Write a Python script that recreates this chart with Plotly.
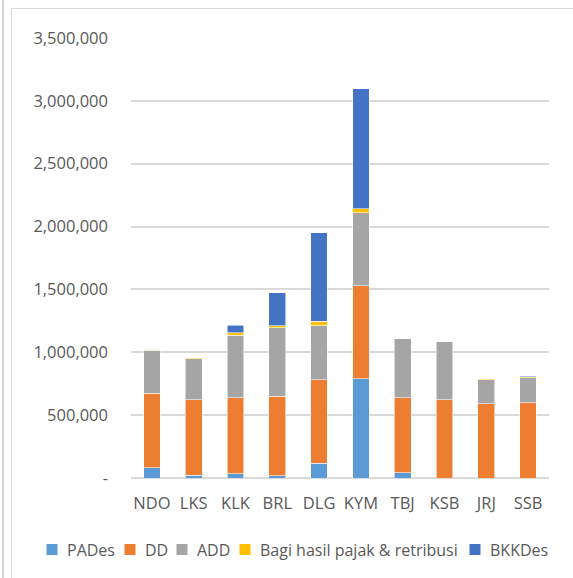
import plotly.graph_objects as go

# Village codes and revenue components (Rupiah)
villages = ["NDO", "LKS", "KLK", "BRL", "DLG", "KYM", "TBJ", "KSB", "JRJ", "SSB"]
pades = [80000, 21000, 34000, 19000, 119000, 790000, 40000, 0, 0, 0]
dd = [596000, 600000, 603000, 633000, 661000, 738000, 597000, 623000, 589000, 597000]
add = [340000, 326000, 498000, 542000, 430000, 581000, 472000, 459000, 191000, 199000]
bagi_hasil = [8000, 8000, 19000, 18000, 37000, 32000, 0, 0, 10000, 10000]
bkkdes = [0, 0, 61000, 260000, 703000, 957000, 0, 0, 0, 6000]

tick_vals = [0, 500000, 1000000, 1500000, 2000000, 2500000, 3000000, 3500000]
tick_text = ["-", "500,000", "1,000,000", "1,500,000", "2,000,000",
             "2,500,000", "3,000,000", "3,500,000"]

series = [
    ("PADes", pades, "#5B9BD5"),
    ("DD", dd, "#ED7D31"),
    ("ADD", add, "#A5A5A5"),
    ("Bagi hasil pajak & retribusi", bagi_hasil, "#FFC000"),
    ("BKKDes", bkkdes, "#4472C4"),
]

FONT = "Open Sans"
TEXT = "#595959"
FS = 16.5

# plot area geometry in pixels
W, H = 573, 578
L, R, T, B = 131, 24, 38, 100
pw, ph = W - L - R, H - T - B


def px_x(p):
    return (p - L) / pw


def px_y(p):
    return 1 - (p - T) / ph


fig = go.Figure()
for name, vals, color in series:
    fig.add_trace(go.Bar(
        x=villages, y=vals, name=name,
        marker=dict(color=color, line=dict(color="rgba(255,255,255,0.7)", width=0.8)),
    ))

frame = "#D9D9D9"
shapes = [
    dict(type="line", xref="paper", yref="paper",
         x0=px_x(3), x1=px_x(3), y0=px_y(0), y1=px_y(H),
         line=dict(color="#D4D4D4", width=2)),
    dict(type="line", xref="paper", yref="paper",
         x0=px_x(11.5), x1=px_x(11.5), y0=px_y(8.5), y1=px_y(H),
         line=dict(color=frame, width=1)),
    dict(type="line", xref="paper", yref="paper",
         x0=px_x(11.5), x1=px_x(W), y0=px_y(8.5), y1=px_y(8.5),
         line=dict(color=frame, width=1)),
]

# single-row key under the category axis: swatch left edges (px) per series
key_swatch_left = [46.5, 124.5, 176.5, 239.5, 469.5]
key_row_y = 549.5
swatch = 11
text_gap = 8
annotations = []
for (name, _, color), sx in zip(series, key_swatch_left):
    shapes.append(dict(
        type="rect", xref="paper", yref="paper",
        x0=px_x(sx), x1=px_x(sx + swatch),
        y0=px_y(key_row_y - swatch / 2), y1=px_y(key_row_y + swatch / 2),
        fillcolor=color, line=dict(width=0),
    ))
    annotations.append(dict(
        text=name, xref="paper", yref="paper",
        x=px_x(sx + swatch + text_gap), xanchor="left",
        y=px_y(key_row_y), yanchor="middle",
        showarrow=False, borderpad=0,
        font=dict(family=FONT, size=16, color=TEXT),
    ))

fig.update_layout(
    width=W, height=H,
    margin=dict(l=L, r=R, t=T, b=B, pad=0),
    barmode="stack",
    bargap=0.6,
    paper_bgcolor="white",
    plot_bgcolor="white",
    font=dict(family=FONT, size=FS, color=TEXT),
    showlegend=False,
    shapes=shapes,
    annotations=annotations,
    xaxis=dict(
        showgrid=False, showline=False, ticks="",
        tickfont=dict(family=FONT, size=FS, color=TEXT),
        ticklabelstandoff=13,
    ),
    yaxis=dict(
        range=[0, 3500000],
        tickvals=tick_vals, ticktext=tick_text,
        showgrid=True, gridcolor="#D9D9D9", gridwidth=1.5,
        zeroline=True, zerolinecolor="#D9D9D9", zerolinewidth=1.5,
        showline=False, ticks="",
        tickfont=dict(family=FONT, size=FS, color=TEXT),
        ticklabelstandoff=22,
    ),
)

fig.write_html("out.html")
